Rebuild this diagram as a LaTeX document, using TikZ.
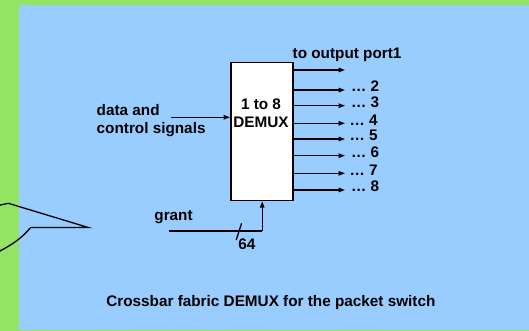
\documentclass[tikz,border=0pt]{standalone}
\usepackage{fontspec}
\setmainfont{Liberation Sans}
\usetikzlibrary{arrows.meta}
\definecolor{bggreen}{RGB}{146,228,98}
\definecolor{bgblue}{RGB}{153,204,255}
\tikzset{
  lbl/.style={inner sep=0pt, font=\fontsize{15.3}{18}\selectfont\bfseries},
  sig/.style={line width=1.3pt, -{Triangle[length=6.5pt,width=4.5pt]}},
  wire/.style={line width=1.3pt}
}
\begin{document}
\begin{tikzpicture}[x=1pt,y=-1pt]
\useasboundingbox (0,0) rectangle (529,331);
\fill[bggreen] (0,0) rectangle (529,331);
\fill[bgblue] (19.3,4.7) rectangle (529,330);
% callout fragment
\begin{scope}
\clip (0,0) rectangle (529,331);
\draw[wire, line join=miter] (-4,206) -- (8.3,203.3) -- (88.3,227.5) -- (30.7,227.5)
  .. controls (22,238) and (12,245) .. (-4,253);
\end{scope}
% DEMUX box
\node[draw, line width=1.5pt, fill=white, minimum width=62.3pt, minimum height=138pt, inner sep=0pt, anchor=north west] (demux) at (230,61.7) {};
\node[lbl, anchor=base] (t1) at (261,109.5) {1 to 8};
\node[lbl, anchor=base] (t2) at (261,127.5) {DEMUX};
% input
\coordinate (inS) at (171.4,117.3);
\draw[sig] (inS) -- (inS -| demux.west);
\node[lbl, anchor=base west] (d1) at (96.5,115.3) {data and};
\node[lbl, anchor=base west] (d2) at (96.5,133.3) {control signals};
% outputs
\node[lbl, anchor=base west] (port1) at (292.5,58.7) {to output port1};
\foreach \y/\n/\dx in {90/2/351,105.7/3/351,123.3/4/349.3,139/5/349.3,155.7/6/351,173.3/7/349.3,190/8/351}{
  \coordinate (o\n) at (292.3,\y);
  \coordinate (e\n) at (345,\y);
  \draw[sig] (o\n) -- (e\n);
  \node[lbl, anchor=base west] (l\n) at (\dx,\y+1.8) {… \n};
}
\coordinate (o1) at (292.3,70);
\coordinate (e1) at (345,70);
\draw[sig] (o1) -- (e1);
% grant
\coordinate (gS) at (169.4,231);
\coordinate (gC) at (262.2,231);
\draw[wire] (gS) -- (gC);
\draw[sig] (gC) -- (gC |- demux.south);
\coordinate (s1) at (241.6,223.3);
\coordinate (s2) at (236.2,240);
\draw[wire] (s1) -- (s2);
\node[lbl, anchor=base west] (g64) at (238.2,249.3) {64};
\node[lbl, anchor=base west] (grant) at (154.2,220) {grant};
% caption
\node[lbl, anchor=base] (cap) at (270.9,306) {Crossbar fabric DEMUX for the packet switch};
\end{tikzpicture}
\end{document}
